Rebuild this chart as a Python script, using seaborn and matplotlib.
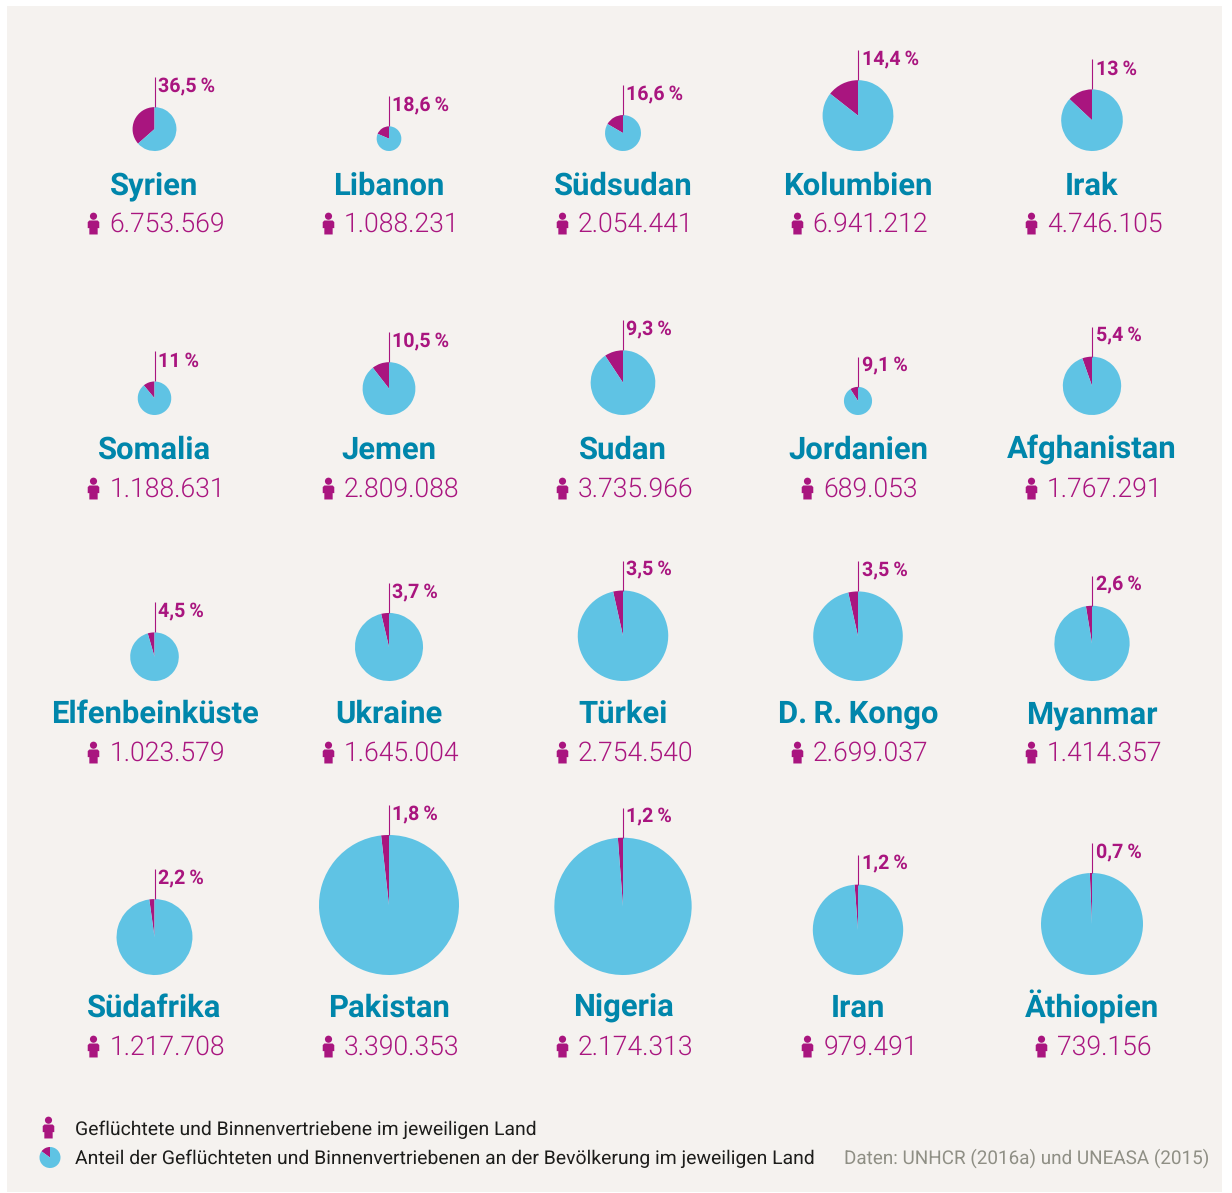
import numpy as np
import pandas as pd
import matplotlib
matplotlib.use("Agg")
import matplotlib.pyplot as plt
from matplotlib.patches import Rectangle
from matplotlib.path import Path
import seaborn as sns

countries = ["Syrien", "Libanon", "Südsudan", "Kolumbien", "Irak",
             "Somalia", "Jemen", "Sudan", "Jordanien", "Afghanistan",
             "Elfenbeinküste", "Ukraine", "Türkei", "D.\u2009R.\u2009Kongo", "Myanmar",
             "Südafrika", "Pakistan", "Nigeria", "Iran", "Äthiopien"]
displaced = [6753569, 1088231, 2054441, 6941212, 4746105,
             1188631, 2809088, 3735966, 689053, 1767291,
             1023579, 1645004, 2754540, 2699037, 1414357,
             1217708, 3390353, 2174313, 979491, 739156]
shares = [36.5, 18.6, 16.6, 14.4, 13,
          11, 10.5, 9.3, 9.1, 5.4,
          4.5, 3.7, 3.5, 3.5, 2.6,
          2.2, 1.8, 1.2, 1.2, 0.7]
population_m = [18.5, 5.85, 12.4, 48.2, 36.5,
                10.8, 26.8, 40.2, 7.6, 32.7,
                22.7, 44.5, 78.7, 77.1, 54.4,
                55.4, 188.4, 181.2, 78.5, 100.0]

legend_person = "Geflüchtete und Binnenvertriebene im jeweiligen Land"
legend_share = "Anteil der Geflüchteten und Binnenvertriebenen an der Bevölkerung im jeweiligen Land"
source = "Daten: UNHCR (2016a) und UNEASA (2015)"

BLUE, MAGENTA, TEAL, BG = "#5FC3E4", "#A9157F", "#0086AB", "#F5F2EF"
W, H = 1232, 1193
col_x = [154.5, 389, 623, 858, 1092]
row_base = [151, 415, 681, 975]
row_title = [195, 459, 723, 1017]
row_value = [232, 497, 761, 1055]
SCALE = 5.1   # px per sqrt(million inhabitants)

sns.set_theme(style="white")
plt.rcParams["font.family"] = ["Roboto", "DejaVu Sans"]
plt.rcParams["text.hinting"] = "no_hinting"
PX = 0.72

fig = plt.figure(figsize=(W / 100, H / 100), dpi=100, facecolor="white")
ax = fig.add_axes([0, 0, 1, 1])
Y = lambda py: H - py

ax.add_patch(Rectangle((7, Y(1192)), 1215, 1186, fc=BG, ec="none", zorder=0))

# person marker
person = Path.make_compound_path(
    Path.circle((0, 6.3), 3.1),
    Path([(-5, 1.2), (-3.6, 2.6), (3.6, 2.6), (5, 1.2), (5, -4.0), (3.6, -4.0), (3.6, -9.5),
          (-3.6, -9.5), (-3.6, -4.0), (-5, -4.0), (-5, 1.2)],
         [Path.MOVETO] + [Path.LINETO] * 9 + [Path.CLOSEPOLY]))

def pie(cx, py_center, r, share):
    ax.pie([share, 100 - share], colors=[MAGENTA, BLUE], startangle=90, counterclock=True,
           center=(cx, Y(py_center)), radius=r, wedgeprops=dict(linewidth=0))

icons = []
labels_later = []
for i, (name, n, s, pop) in enumerate(zip(countries, displaced, shares, population_m)):
    row, col = divmod(i, 5)
    cx = col_x[col]
    r = SCALE * np.sqrt(pop)
    base = row_base[row]
    top = base - 2 * r
    pie(cx, base - r, r, s)
    ax.plot([cx, cx], [Y(top), Y(top - 30)], color=MAGENTA, lw=0.8, solid_capstyle="butt", zorder=3)
    labels_later.append((cx + 3.5, top - 15, f"{s:g}".replace(".", ",") + "\u2009%",
                         dict(color=MAGENTA, fontsize=19.6 * PX, fontweight="bold", ha="left", va="baseline")))
    labels_later.append((cx, row_title[row], name,
                         dict(color=TEAL, fontsize=31 * PX, fontweight="bold", ha="center", va="baseline")))
    icons.append((cx, row_value[row], f"{n:,}".replace(",", ".")))

ax.set_xlim(0, W)
ax.set_ylim(0, H)
ax.set_aspect("auto")
ax.axis("off")

for x, y, t, kw in labels_later:
    ax.text(x, Y(y), t, **kw)

fig.canvas.draw()
rend = fig.canvas.get_renderer()
ix, iy = [], []
for cx, py, t in icons:
    tx = ax.text(0, Y(py), t, color=MAGENTA, fontsize=26.5 * PX, fontweight=300, ha="left", va="baseline")
    w = tx.get_window_extent(rend).width
    total = w + 22
    left = cx + 1.5 - total / 2
    tx.set_x(left + 22)
    ix.append(left + 6)
    iy.append(Y(py - 9.5))

ix.append(48); iy.append(Y(1127))
df = pd.DataFrame({"x": ix, "y": iy})
sns.scatterplot(data=df, x="x", y="y", marker=person, s=250, color=MAGENTA, linewidth=0,
                ax=ax, legend=False, zorder=4)

pie(50, 1157.5, 10.5, 15)
ax.set_xlim(0, W)
ax.set_ylim(0, H)
ax.set_aspect("auto")
ax.axis("off")

ax.text(75, Y(1135), legend_person, color="#1d1d1b", fontsize=19.4 * PX, ha="left", va="baseline")
ax.text(75, Y(1164), legend_share, color="#1d1d1b", fontsize=19.4 * PX, ha="left", va="baseline")
ax.text(1209, Y(1164), source, color="#8f8f85", fontsize=18.9 * PX, ha="right", va="baseline")

fig.savefig("out.png", dpi=100, facecolor="white")
